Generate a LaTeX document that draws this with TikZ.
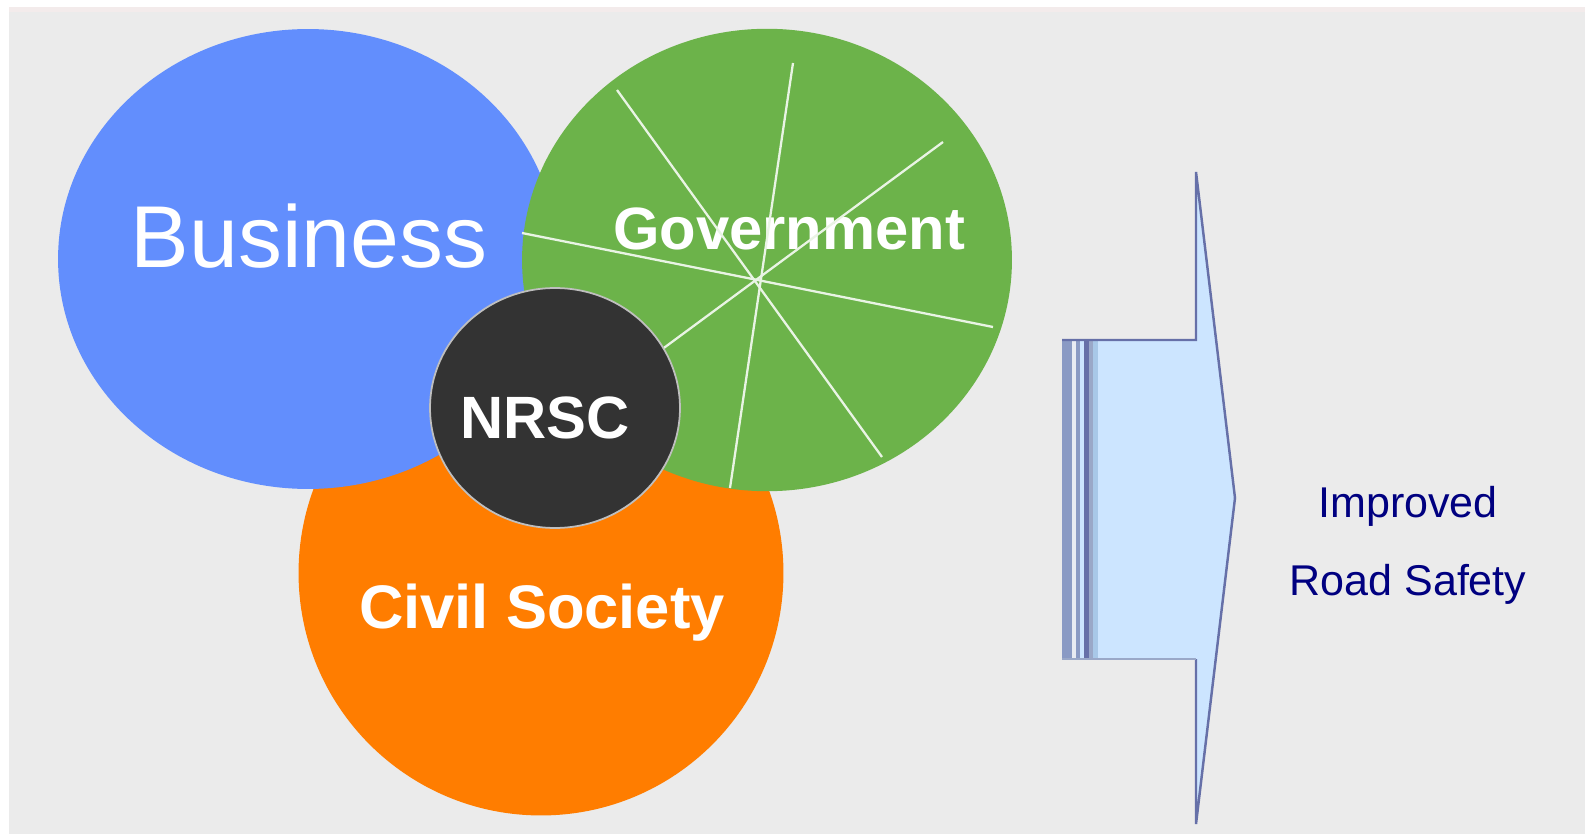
\documentclass[tikz,border=0pt]{standalone}
\usepackage{fontspec}
\setmainfont{Liberation Sans}
\usetikzlibrary{shapes.geometric}

\definecolor{bgGrey}{HTML}{EBEBEB}
\definecolor{topStrip}{HTML}{F3EBEB}
\definecolor{bizBlue}{HTML}{628EFD}
\definecolor{govGreen}{HTML}{6CB34A}
\definecolor{civOrange}{HTML}{FF7D00}
\definecolor{nrscDark}{HTML}{333333}
\definecolor{arrowFill}{HTML}{CCE5FF}
\definecolor{arrowLine}{HTML}{6670A8}
\definecolor{stripeA}{HTML}{8A9AC4}
\definecolor{stripeB}{HTML}{9AA8C8}
\definecolor{stripeC}{HTML}{A8C8E8}
\definecolor{navyText}{HTML}{000080}

\begin{document}
\begin{tikzpicture}[x=0.02cm,y=-0.02cm,
    blob/.style={ellipse,inner sep=0pt},
    whitelabel/.style={text=white,inner sep=0pt,anchor=base},
    spoke/.style={white!85!govGreen,line width=1.3pt}]
  \useasboundingbox (0,0) rectangle (1585,834);

  % background
  \fill[white] (0,0) rectangle (1585,834);
  \fill[topStrip] (9,7) rectangle (1585,12);
  \fill[bgGrey] (9,12) rectangle (1585,834);

  % the three sectors
  \node[blob,fill=civOrange,minimum width=9.7cm,minimum height=9.7cm] (civil) at (541,573) {};
  \node[blob,fill=bizBlue,minimum width=10cm,minimum height=9.2cm] (business) at (308,259) {};
  \node[blob,fill=govGreen,minimum width=9.8cm,minimum height=9.25cm] (government) at (767,260) {};

  \node[whitelabel] (governmentText) at (789,250) {\fontsize{34}{40}\selectfont\bfseries Government};

  % spokes of the government circle
  \foreach \a/\b in {{(617,90)}/{(882,457)},{(793,63)}/{(730,488)},
                     {(943,142)}/{(657,353)},{(522,233)}/{(993,327)}}
    \draw[spoke] \a -- \b;

  % the council in the middle
  \node[blob,fill=nrscDark,draw=white!75!black,line width=1pt,
        minimum width=5cm,minimum height=4.8cm] (nrsc) at (555,408) {};

  \node[whitelabel] (businessText) at (309,268) {\fontsize{50}{60}\selectfont Business};
  \node[whitelabel] (nrscText) at (545,438) {\fontsize{34}{40}\selectfont\bfseries NRSC};
  \node[whitelabel] (civilText) at (542,628) {\fontsize{35}{42}\selectfont\bfseries Civil Society};

  % arrow
  \fill[arrowFill] (1062,340) -- (1196,340) -- (1196,172) -- (1235,498)
    -- (1196,824) -- (1196,659) -- (1062,659) -- cycle;
  \fill[stripeA] (1062,340) rectangle (1072,659);
  \fill[white!80!stripeA] (1072,340) rectangle (1076,659);
  \fill[stripeA] (1076,340) rectangle (1080,659);
  \fill[arrowLine] (1084,340) rectangle (1089,659);
  \fill[stripeB] (1089,340) rectangle (1093,659);
  \fill[stripeC] (1093,340) rectangle (1098,659);
  \draw[arrowLine,line width=1.4pt] (1062,340) -- (1196,340) -- (1196,172)
    -- (1235,498) -- (1196,824) -- (1196,659);
  \draw[stripeB,line width=1.4pt] (1196,659) -- (1062,659);

  \node[anchor=base,text=navyText,inner sep=0pt] (improved) at (1408,517)
    {\fontsize{24.5}{30}\selectfont Improved};
  \node[anchor=base,text=navyText,inner sep=0pt] (safety) at (1408,595)
    {\fontsize{24.5}{30}\selectfont Road Safety};
\end{tikzpicture}
\end{document}
